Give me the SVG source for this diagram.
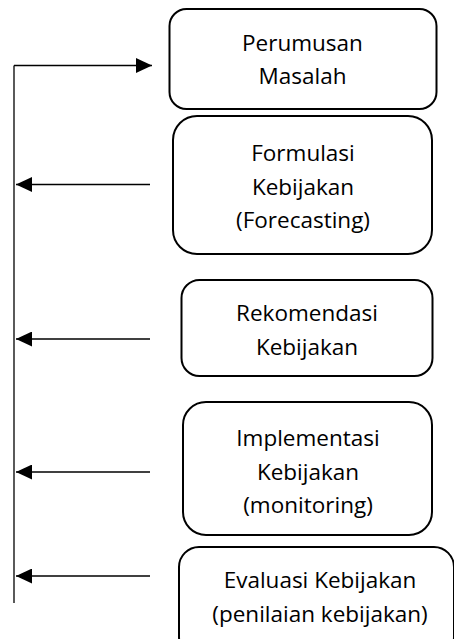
<svg xmlns="http://www.w3.org/2000/svg" width="454" height="639" viewBox="0 0 454 639">
  <style>
    .box { fill: #ffffff; stroke: #000000; stroke-width: 2; }
    .lbl { font-family: "Open Sans", "Noto Sans", "DejaVu Sans", sans-serif; font-size: 22.5px; fill: #000000; text-anchor: middle; }
    .conn { stroke: #000000; stroke-width: 1.3; fill: none; }
  </style>
  <defs>
    <marker id="arrow" viewBox="0 0 16 15" refX="16" refY="7.5" markerWidth="16" markerHeight="15" markerUnits="userSpaceOnUse" orient="auto">
      <path d="M0,0 L16,7.5 L0,15 Z" fill="#000000"/>
    </marker>
    <clipPath id="clip4"><rect x="183" y="402" width="249" height="116"/></clipPath>
    <clipPath id="clip5"><rect x="179" y="547" width="276" height="86"/></clipPath>
  </defs>
  <rect width="454" height="639" fill="#ffffff"/>

  <g id="connectors">
    <path class="conn" d="M14,65.5 L14,603"/>
    <path class="conn" d="M14,65.5 L152,65.5" marker-end="url(#arrow)"/>
    <path class="conn" d="M150,184.5 L16,184.5" marker-end="url(#arrow)"/>
    <path class="conn" d="M150,339 L16,339" marker-end="url(#arrow)"/>
    <path class="conn" d="M150,472 L16,472" marker-end="url(#arrow)"/>
    <path class="conn" d="M150,576 L16,576" marker-end="url(#arrow)"/>
  </g>

  <g id="node-perumusan">
    <rect class="box" x="169.5" y="9" width="267" height="100" rx="17" ry="17"/>
    <text class="lbl" x="302.5" y="51">Perumusan</text>
    <text class="lbl" x="302.5" y="84">Masalah</text>
  </g>

  <g id="node-formulasi">
    <rect class="box" x="173" y="116" width="259" height="138" rx="24" ry="24"/>
    <text class="lbl" x="303" y="161">Formulasi</text>
    <text class="lbl" x="303" y="195">Kebijakan</text>
    <text class="lbl" x="303" y="228">(Forecasting)</text>
  </g>

  <g id="node-rekomendasi">
    <rect class="box" x="181.5" y="280" width="251" height="96" rx="18" ry="18"/>
    <text class="lbl" x="307" y="321">Rekomendasi</text>
    <text class="lbl" x="307" y="355">Kebijakan</text>
  </g>

  <g id="node-implementasi">
    <rect class="box" x="183" y="402" width="249" height="133" rx="23" ry="23"/>
    <g clip-path="url(#clip4)">
      <text class="lbl" x="308" y="446">Implementasi</text>
      <text class="lbl" x="308" y="480">Kebijakan</text>
      <text class="lbl" x="308" y="513">(monitoring)</text>
    </g>
  </g>

  <g id="node-evaluasi">
    <rect class="box" x="179" y="547" width="275" height="110" rx="20" ry="20"/>
    <g clip-path="url(#clip5)">
      <text class="lbl" x="320" y="588">Evaluasi Kebijakan</text>
      <text class="lbl" x="320" y="622">(penilaian kebijakan)</text>
    </g>
  </g>
</svg>
